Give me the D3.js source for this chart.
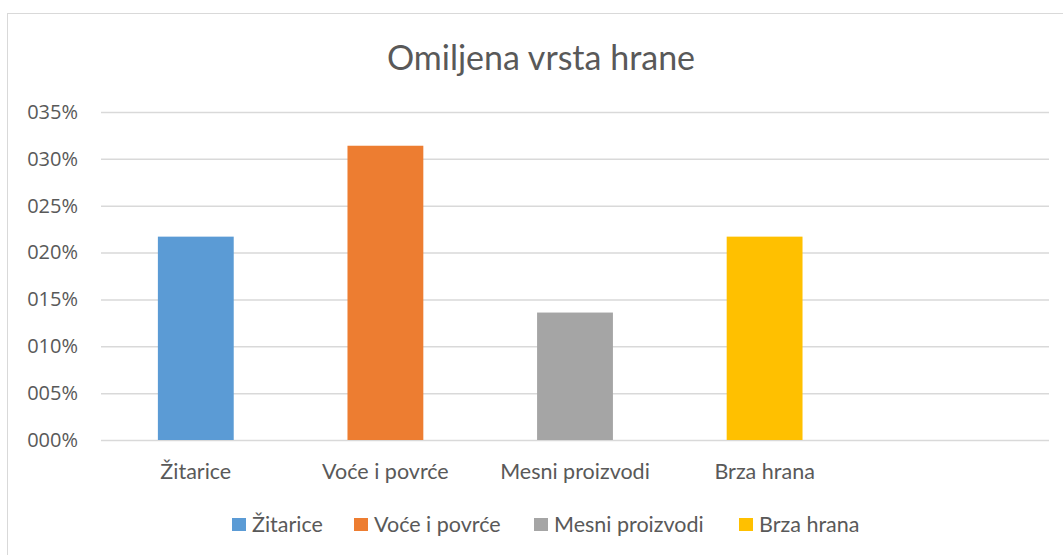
<!DOCTYPE html>
<html>
<head>
<meta charset="utf-8">
<script src="https://cdn.jsdelivr.net/npm/d3@7"></script>
<style>
  body { margin: 0; background: #fff; }
  svg { font-family: Lato, "Open Sans", sans-serif; }
</style>
</head>
<body>
<svg id="chart" width="1063" height="555"></svg>
<script>
// data
var categories = ["Žitarice", "Voće i povrće", "Mesni proizvodi", "Brza hrana", ""];
var values = [0.217, 0.314, 0.136, 0.217, null];
var colors = ["#5b9bd5", "#ed7d31", "#a5a5a5", "#ffc000"];
var yTicks = [0, 0.05, 0.10, 0.15, 0.20, 0.25, 0.30, 0.35];

var svg = d3.select("#chart");

// chart frame
svg.append("rect")
  .attr("x", 7.5).attr("y", 13.5)
  .attr("width", 1070).attr("height", 560)
  .attr("fill", "none")
  .attr("stroke", "#d9d9d9");

// title
svg.append("text")
  .attr("x", 541).attr("y", 70)
  .attr("text-anchor", "middle")
  .attr("font-size", "34px")
  .attr("fill", "#595959")
  .text("Omiljena vrsta hrane");

var margin = {top: 112, left: 101},
  width = 948,
  height = 328;

var g = svg.append("g")
  .attr("transform", "translate(" + margin.left + "," + margin.top + ")");

var x = d3.scaleBand()
  .domain(d3.range(categories.length))
  .range([0, width])
  .paddingInner(0.6)
  .paddingOuter(0.3);

var y = d3.scaleLinear()
  .domain([0, 0.35])
  .range([height, 0]);

// gridlines
g.append("g")
  .attr("class", "grid")
  .call(d3.axisLeft(y).tickValues(yTicks).tickSize(-width).tickFormat(""))
  .call(s => s.select(".domain").remove())
  .selectAll("line")
  .attr("stroke", "#d9d9d9")
  .attr("stroke-width", 1.5);

// y labels
g.append("g")
  .attr("class", "yAxis")
  .call(d3.axisLeft(y).tickValues(yTicks).tickSize(0).tickPadding(23)
    .tickFormat(d => d3.format("03d")(Math.round(d * 100)) + "%"))
  .call(s => s.select(".domain").remove())
  .selectAll("text")
  .attr("font-size", "20px")
  .attr("font-family", "'Open Sans', sans-serif")
  .attr("fill", "#595959");

// bars
g.selectAll("rect.bar")
  .data(values.map((v, i) => ({v: v, i: i})).filter(d => d.v != null))
  .enter()
  .append("rect")
  .attr("class", "bar")
  .attr("x", d => x(d.i))
  .attr("width", x.bandwidth())
  .attr("y", d => y(d.v))
  .attr("height", d => height - y(d.v))
  .attr("fill", d => colors[d.i]);

// x labels
g.append("g")
  .attr("class", "xAxis")
  .attr("transform", "translate(0," + height + ")")
  .call(d3.axisBottom(x).tickSize(0).tickPadding(24).tickFormat(i => categories[i]))
  .call(s => s.select(".domain").remove())
  .selectAll("text")
  .attr("font-size", "21.5px")
  .attr("font-family", "Lato, sans-serif")
  .attr("fill", "#595959");

// legend
var legendX = [232, 354, 534, 739];
var legend = svg.append("g").attr("class", "legend")
  .selectAll("g")
  .data(categories.slice(0, 4))
  .enter()
  .append("g")
  .attr("transform", (d, i) => "translate(" + legendX[i] + ",518)");

legend.append("rect")
  .attr("width", 14).attr("height", 13)
  .attr("fill", (d, i) => colors[i]);

legend.append("text")
  .attr("x", 20).attr("y", 14)
  .attr("font-size", "21.5px")
  .attr("fill", "#595959")
  .text(d => d);
</script>
</body>
</html>
